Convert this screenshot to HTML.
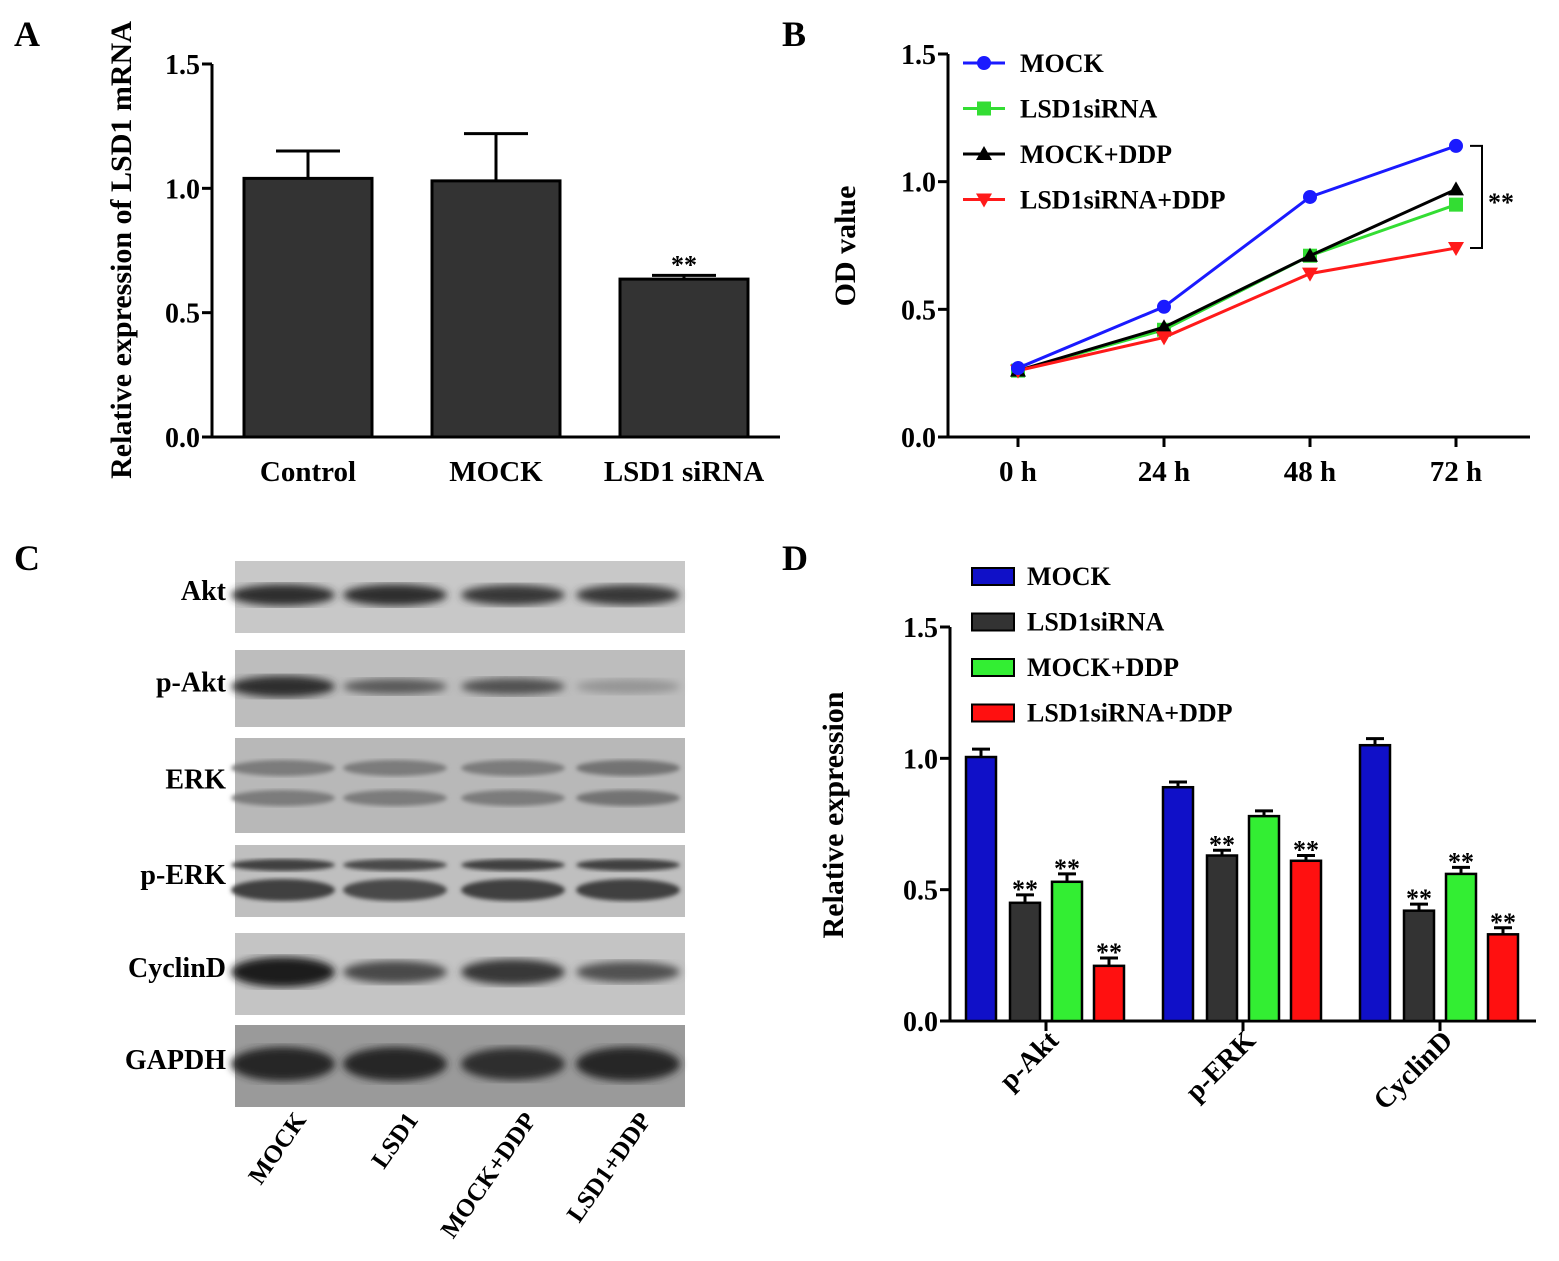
<!DOCTYPE html>
<html><head><meta charset="utf-8"><style>
body{margin:0;background:#fff}
svg{display:block;font-family:"Liberation Serif",serif;font-weight:bold}
</style></head><body>
<svg id="fig" width="1559" height="1261" viewBox="0 0 1559 1261" xmlns="http://www.w3.org/2000/svg">
<defs>
<filter id="blur"><feGaussianBlur stdDeviation="4"/></filter>
<filter id="blur2"><feGaussianBlur stdDeviation="2"/></filter>
</defs>
<text x="14" y="46" font-size="36">A</text>
<text x="782" y="46" font-size="36">B</text>
<text x="14" y="570" font-size="36">C</text>
<text x="782" y="570" font-size="36">D</text>
<g id="A"></g>
<g id="B"></g>
<g id="C"></g>
<g id="D"></g>
</svg>
<script>
// Panel A data
const aCategories=["Control","MOCK","LSD1 siRNA"];
const aValues=[1.04,1.03,0.635];
const aErrors=[0.11,0.19,0.015];
const aTicks=[0,0.5,1.0,1.5];
// Panel B data
const bTimes=["0 h","24 h","48 h","72 h"];
const bSeriesNames=["MOCK","LSD1siRNA","MOCK+DDP","LSD1siRNA+DDP"];
const bMock=[0.27,0.51,0.94,1.14];
const bSi=[0.26,0.42,0.71,0.91];
const bMockDdp=[0.26,0.43,0.71,0.97];
const bSiDdp=[0.26,0.39,0.64,0.74];
const bTicks=[0,0.5,1.0,1.5];
// Panel D data
const dGroups=["p-Akt","p-ERK","CyclinD"];
const dSeriesNames=["MOCK","LSD1siRNA","MOCK+DDP","LSD1siRNA+DDP"];
const dMock=[1.005,0.89,1.05];
const dSi=[0.45,0.63,0.42];
const dMockDdp=[0.53,0.78,0.56];
const dSiDdp=[0.21,0.61,0.33];
const dErr=[0.03,0.02,0.025];
const dStars=[[false,true,true,true],[false,true,false,true],[false,true,true,true]];
const dTicks=[0,0.5,1.0,1.5];
// Panel C
const cRows=["Akt","p-Akt","ERK","p-ERK","CyclinD","GAPDH"];
const cLanes=["MOCK","LSD1","MOCK+DDP","LSD1+DDP"];

const NS="http://www.w3.org/2000/svg";
function el(p,t,a,txt){const e=document.createElementNS(NS,t);for(const k in a)e.setAttribute(k,a[k]);if(txt!==undefined)e.textContent=txt;p.appendChild(e);return e;}
const fmt=v=>v.toFixed(1);

// ---- Panel A
(function(){
const g=document.getElementById('A');
const x0=212,y0=437,yTop=64,xEnd=780;
const y=v=>y0-(v/1.5)*(y0-yTop);
const cx=[308,496,684],bw=128;
let e=el(g,'line',{x1:x0,y1:y0,x2:x0,y2:yTop,stroke:'#000','stroke-width':3});

e=el(g,'line',{x1:x0,y1:y0,x2:xEnd,y2:y0,stroke:'#000','stroke-width':3});

aTicks.forEach(t=>{el(g,'line',{x1:x0-10,y1:y(t),x2:x0,y2:y(t),stroke:'#000','stroke-width':3});
 e=el(g,'text',{x:x0-12,y:y(t)+10,'font-size':28,'text-anchor':'end'},fmt(t));
 });
aCategories.forEach((c,i)=>{
 const top=y(aValues[i]),et=y(aValues[i]+aErrors[i]);
 el(g,'line',{x1:cx[i],y1:top,x2:cx[i],y2:et,stroke:'#000','stroke-width':3});
 el(g,'line',{x1:cx[i]-32,y1:et,x2:cx[i]+32,y2:et,stroke:'#000','stroke-width':3});
 e=el(g,'rect',{x:cx[i]-bw/2,y:top,width:bw,height:y0-top,fill:'#333',stroke:'#000','stroke-width':3});
 
 e=el(g,'text',{x:cx[i],y:481,'font-size':29,'text-anchor':'middle'},c);
 
});
e=el(g,'text',{x:cx[2],y:y(aValues[2]+aErrors[2])-2,'font-size':26,'text-anchor':'middle'},'**');

e=el(g,'text',{x:0,y:0,'font-size':30,'text-anchor':'middle',transform:'translate(131,250) rotate(-90)'},'Relative expression of LSD1 mRNA');

})();

// ---- Panel B
(function(){
const g=document.getElementById('B');
const x0=948,y0=437,yTop=54,xEnd=1530;
const y=v=>y0-(v/1.5)*(y0-yTop);
const xs=i=>1018+i*146;
let e=el(g,'line',{x1:x0,y1:y0,x2:x0,y2:yTop,stroke:'#000','stroke-width':3});

e=el(g,'line',{x1:x0,y1:y0,x2:xEnd,y2:y0,stroke:'#000','stroke-width':3});

bTicks.forEach(t=>{el(g,'line',{x1:x0-10,y1:y(t),x2:x0,y2:y(t),stroke:'#000','stroke-width':3});
 e=el(g,'text',{x:x0-12,y:y(t)+10,'font-size':28,'text-anchor':'end'},fmt(t));
 });
bTimes.forEach((t,i)=>{el(g,'line',{x1:xs(i),y1:y0,x2:xs(i),y2:y0+10,stroke:'#000','stroke-width':3});
 e=el(g,'text',{x:xs(i),y:481,'font-size':29,'text-anchor':'middle'},t);
 });
const series=[bMock,bSi,bMockDdp,bSiDdp];
const cols=['#1a1aff','#33dd33','#000','#ff1a1a'];
const marker=(px,py,k,c)=>{
 if(k===0)return el(g,'circle',{cx:px,cy:py,r:7,fill:c});
 if(k===1)return el(g,'rect',{x:px-7,y:py-7,width:14,height:14,fill:c});
 if(k===2)return el(g,'polygon',{points:`${px},${py-8} ${px-8},${py+6} ${px+8},${py+6}`,fill:c});
 return el(g,'polygon',{points:`${px},${py+8} ${px-8},${py-6} ${px+8},${py-6}`,fill:c});
};
[1,2,3,0].forEach(k=>{
 const d=series[k];
 e=el(g,'polyline',{points:d.map((v,i)=>xs(i)+','+y(v)).join(' '),fill:'none',stroke:cols[k],'stroke-width':3});
 
 d.forEach((v,i)=>{const m=marker(xs(i),y(v),k,cols[k]);
  });
});
bSeriesNames.forEach((n,k)=>{const ly=63+k*45.5;
 el(g,'line',{x1:963,y1:ly,x2:1005,y2:ly,stroke:cols[k],'stroke-width':3});
 marker(984,ly,k,cols[k]);
 e=el(g,'text',{x:1020,y:ly+9,'font-size':26},n);
 });
const bt=y(bMock[3]),bb=y(bSiDdp[3]);
e=el(g,'polyline',{points:`1470,${bt} 1482,${bt} 1482,${bb} 1470,${bb}`,fill:'none',stroke:'#000','stroke-width':2});

e=el(g,'text',{x:1488,y:(bt+bb)/2+14,'font-size':26},'**');

e=el(g,'text',{x:0,y:0,'font-size':30,'text-anchor':'middle',transform:'translate(855,246) rotate(-90)'},'OD value');

})();

// ---- Panel C
(function(){
const g=document.getElementById('C');
const rows=[[561,633],[650,727],[738,833],[845,917],[933,1015],[1025,1107]];
const laneX=[283,395,513,628];
const intens=[[0.9,0.9,0.85,0.85],[0.9,0.65,0.7,0.3],[0.45,0.45,0.45,0.5],[0.8,0.75,0.8,0.8],[1,0.75,0.85,0.7],[0.95,0.95,0.9,0.95]];
const bg=['#c8c8c8','#bdbdbd','#b8b8b8','#bfbfbf','#c4c4c4','#9a9a9a'];
let e;
cRows.forEach((r,i)=>{
 const [t,b]=rows[i];
 e=el(g,'rect',{x:235,y:t,width:450,height:b-t,fill:bg[i]});
 
 e=el(g,'text',{x:226,y:(t+b)/2+3,'font-size':28,'text-anchor':'end'},r);
 
 laneX.forEach((lx,j)=>{
  const v=intens[i][j],c=Math.round(200-170*v);
  const col=`rgb(${c},${c},${c})`;
  if(r==='ERK'||r==='p-ERK'){
   const two=r==='ERK'?[t+30,t+60]:[t+20,t+45];
   const hs=r==='ERK'?[8,8]:[6,11];
   two.forEach((yy,q)=>el(g,'ellipse',{cx:lx,cy:yy,rx:52,ry:hs[q],fill:col,filter:'url(#blur2)'}));
  } else {
   const h=r==='GAPDH'?18:r==='CyclinD'?15:12;
   el(g,'ellipse',{cx:lx,cy:(t+b)/2-2,rx:52,ry:h*Math.max(v,0.6),fill:col,filter:'url(#blur)'});
  }
 });
});
cLanes.forEach((l,j)=>{
 e=el(g,'text',{x:0,y:0,'font-size':25,'text-anchor':'end',transform:`translate(${laneX[j]+24},1120) rotate(-55)`},l);
 
});
})();

// ---- Panel D
(function(){
const g=document.getElementById('D');
const x0=950,y0=1021,yTop=627,xEnd=1536;
const y=v=>y0-(v/1.5)*(y0-yTop);
const gc=[1046,1243,1440];
const off=[-65,-21,21,63],bw=30;
const cols=['#1010c8','#333','#33ee33','#ff1010'];
const series=[dMock,dSi,dMockDdp,dSiDdp];
let e=el(g,'line',{x1:x0,y1:y0,x2:x0,y2:yTop,stroke:'#000','stroke-width':3});

e=el(g,'line',{x1:x0,y1:y0,x2:xEnd,y2:y0,stroke:'#000','stroke-width':3});

dTicks.forEach(t=>{el(g,'line',{x1:x0-10,y1:y(t),x2:x0,y2:y(t),stroke:'#000','stroke-width':3});
 e=el(g,'text',{x:x0-12,y:y(t)+10,'font-size':28,'text-anchor':'end'},fmt(t));
 });
dGroups.forEach((gr,i)=>{
 el(g,'line',{x1:gc[i],y1:y0,x2:gc[i],y2:y0+10,stroke:'#000','stroke-width':3});
 e=el(g,'text',{x:0,y:0,'font-size':28,'text-anchor':'end',transform:`translate(${gc[i]+14},1042) rotate(-45)`},gr);
 
 series.forEach((s,k)=>{
  const cx=gc[i]+off[k],top=y(s[i]),et=y(s[i]+dErr[i]);
  el(g,'line',{x1:cx,y1:top,x2:cx,y2:et,stroke:'#000','stroke-width':3});
  el(g,'line',{x1:cx-9,y1:et,x2:cx+9,y2:et,stroke:'#000','stroke-width':3});
  e=el(g,'rect',{x:cx-bw/2,y:top,width:bw,height:y0-top,fill:cols[k],stroke:'#000','stroke-width':2.5});
  
  if(dStars[i][k]){e=el(g,'text',{x:cx,y:et+3,'font-size':26,'text-anchor':'middle'},'**');
   }
 });
});
dSeriesNames.forEach((n,k)=>{const ly=576+k*45.5;
 e=el(g,'rect',{x:972,y:ly-8,width:42,height:17,fill:cols[k],stroke:'#000','stroke-width':2});
 
 e=el(g,'text',{x:1027,y:ly+9,'font-size':26},n);
 });
e=el(g,'text',{x:0,y:0,'font-size':30,'text-anchor':'middle',transform:'translate(843,815) rotate(-90)'},'Relative expression');

})();
</script>
</body></html>
